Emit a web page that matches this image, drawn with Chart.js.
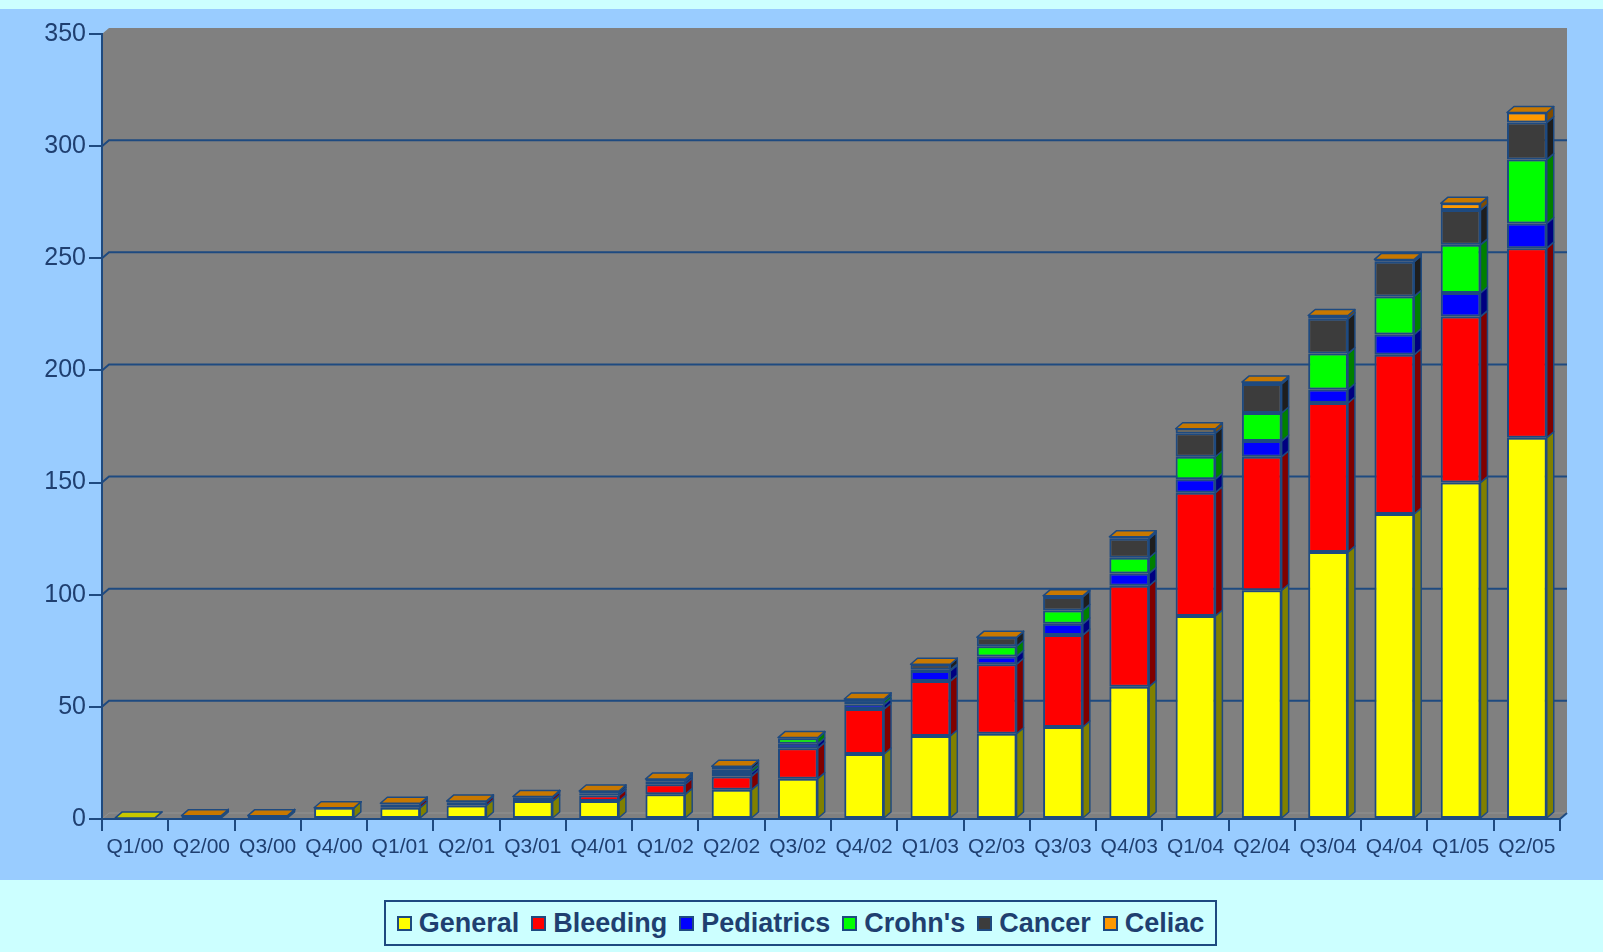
<!DOCTYPE html>
<html>
<head>
<meta charset="utf-8">
<script src="https://cdn.jsdelivr.net/npm/chart.js@4.4.1/dist/chart.umd.min.js"></script>
<style>
  html, body { margin: 0; padding: 0; background: #ccffff; }
  body { width: 1603px; height: 952px; position: relative; overflow: hidden; font-family: "Liberation Sans", Arial, sans-serif; }
  #wrap { position: absolute; left: 0; top: 0; width: 1603px; height: 880px; }
  #legend { position: absolute; left: 384px; top: 900px; width: 829px; height: 42px; border: 2px solid #1e4a80;
            display: flex; align-items: center; justify-content: center; }
  .item { display: flex; align-items: center; margin: 0 6px; font-weight: bold; font-size: 27px; color: #1f3f70; }
  .box { width: 11px; height: 11px; border: 2px solid #1e4a80; margin-right: 7px; }
</style>
</head>
<body>
<div id="wrap"><canvas id="chart" width="1603" height="880"></canvas></div>
<div id="legend"></div>
<script>
const quarters = ["Q1/00", "Q2/00", "Q3/00", "Q4/00", "Q1/01", "Q2/01", "Q3/01", "Q4/01",
                  "Q1/02", "Q2/02", "Q3/02", "Q4/02", "Q1/03", "Q2/03", "Q3/03", "Q4/03",
                  "Q1/04", "Q2/04", "Q3/04", "Q4/04", "Q1/05", "Q2/05"];

const general    = [0.5, 1.5, 1.5, 5, 5, 6, 8, 8, 11, 13, 18, 29, 37, 38, 41, 59, 90.5, 102, 119, 136, 150, 170];
const bleeding   = [null, 0, 0, 0, 1.5, 1.5, 1.5, 2.5, 4.5, 6, 13.5, 20, 24.5, 31, 41, 45, 55, 59.5, 66.5, 71, 74, 84.5];
const pediatrics = [null, 0, 0, 0, 0.5, 0.5, 0.5, 1, 1, 1.5, 2, 2, 4.5, 3.5, 5, 5.5, 6, 7, 6, 9, 10.5, 11];
const crohns     = [null, 0, 0, 0, 0, 0, 0, 0, 0.3, 1.5, 2.5, 1.5, 0.5, 4.5, 6, 7, 10, 12.5, 16, 17, 21.5, 28.5];
const cancer     = [null, 0, 0, 0, 0, 0, 0, 1, 1, 1.5, 0.3, 1, 2.5, 4, 6, 8.5, 10.5, 13, 15.5, 15.5, 15.5, 16.5];
const celiac     = [null, 0, 0, 0, 0, 0, 0, 0, 0, 0, 0, 0, 0, 0, 0.5, 0.8, 2, 0.8, 1.5, 1, 3, 4.5];

const yTicks = [0, 50, 100, 150, 200, 250, 300, 350];

const seriesNames = ["General", "Bleeding", "Pediatrics", "Crohn's", "Cancer", "Celiac"];
const seriesData = [general, bleeding, pediatrics, crohns, cancer, celiac];
const frontColors = ["#ffff00", "#ff0000", "#0000ff", "#00ff00", "#3c3c3c", "#ff9900"];
const sideColors  = ["#808000", "#800000", "#000080", "#008000", "#1e1e1e", "#804c00"];
const topColors   = ["#c8c800", "#c00000", "#0000c0", "#00c000", "#2e2e2e", "#c87800"];

const navy = "#1e4a80";
const textNavy = "#1f3f70";
const dx = 7, dy = 6;

const threeD = {
    id: "threeD",
    beforeDraw(chart) {
        const ctx = chart.ctx, a = chart.chartArea, ys = chart.scales.y;
        ctx.save();
        ctx.fillStyle = "#ccffff";
        ctx.fillRect(0, 0, chart.width, 9);
        ctx.fillStyle = "#99ccff";
        ctx.fillRect(0, 9, chart.width, chart.height - 9);

        // back wall + side wall + floor
        ctx.fillStyle = "#808080";
        ctx.beginPath();
        ctx.moveTo(a.left, a.top);
        ctx.lineTo(a.left + dx, a.top - dy);
        ctx.lineTo(a.right + dx, a.top - dy);
        ctx.lineTo(a.right + dx, a.bottom - dy);
        ctx.lineTo(a.right, a.bottom);
        ctx.lineTo(a.left, a.bottom);
        ctx.closePath();
        ctx.fill();

        // faint floor edge
        ctx.strokeStyle = "rgba(150,150,150,0.8)";
        ctx.lineWidth = 1;
        ctx.beginPath();
        ctx.moveTo(a.left, a.bottom);
        ctx.lineTo(a.left + dx, a.bottom - dy);
        ctx.lineTo(a.right + dx, a.bottom - dy);
        ctx.stroke();

        // grid lines on the back wall
        ctx.strokeStyle = navy;
        ctx.lineWidth = 2;
        yTicks.forEach(v => {
            if (v <= 0 || v >= ys.max) return;
            const py = ys.getPixelForValue(v);
            ctx.beginPath();
            ctx.moveTo(a.left, py);
            ctx.lineTo(a.left + dx, py - dy);
            ctx.lineTo(a.right + dx, py - dy);
            ctx.stroke();
        });

        // right end of floor
        ctx.beginPath();
        ctx.moveTo(a.right, a.bottom);
        ctx.lineTo(a.right + dx, a.bottom - dy);
        ctx.stroke();
        ctx.restore();
    },
    afterDatasetsDraw(chart) {
        const ctx = chart.ctx;
        ctx.save();
        ctx.strokeStyle = navy;
        ctx.lineWidth = 1.5;
        ctx.lineJoin = "round";
        quarters.forEach((q, i) => {
            let topIdx = -1;
            seriesData.forEach((arr, d) => {
                if (arr[i] === null) return;
                const el = chart.getDatasetMeta(d).data[i];
                const r = el.x + el.width / 2;
                ctx.fillStyle = sideColors[d];
                ctx.beginPath();
                ctx.moveTo(r, el.y);
                ctx.lineTo(r + dx, el.y - dy);
                ctx.lineTo(r + dx, el.base - dy);
                ctx.lineTo(r, el.base);
                ctx.closePath();
                ctx.fill();
                ctx.stroke();
                topIdx = d;
            });
            if (topIdx < 0) return;
            const el = chart.getDatasetMeta(topIdx).data[i];
            const l = el.x - el.width / 2, r = el.x + el.width / 2;
            ctx.fillStyle = topColors[topIdx];
            ctx.beginPath();
            ctx.moveTo(l, el.y);
            ctx.lineTo(l + dx, el.y - dy);
            ctx.lineTo(r + dx, el.y - dy);
            ctx.lineTo(r, el.y);
            ctx.closePath();
            ctx.fill();
            ctx.stroke();
        });
        ctx.restore();
    }
};

new Chart(document.getElementById("chart"), {
    type: "bar",
    data: {
        labels: quarters,
        datasets: seriesData.map((arr, d) => ({
            label: seriesNames[d],
            data: arr,
            backgroundColor: frontColors[d],
            borderColor: navy,
            borderWidth: 2,
            borderSkipped: false,
            barPercentage: 0.6,
            categoryPercentage: 1
        }))
    },
    options: {
        responsive: false,
        devicePixelRatio: 1,
        animation: false,
        layout: { padding: { top: 34, right: 43, bottom: 0, left: 0 } },
        plugins: { legend: { display: false }, tooltip: { enabled: false } },
        scales: {
            x: {
                stacked: true,
                grid: { drawOnChartArea: false, offset: true, tickLength: 12, color: navy, lineWidth: 2 },
                border: { display: true, color: navy, width: 2 },
                ticks: { color: textNavy, font: { family: "Liberation Sans", size: 21 }, padding: 4,
                         maxRotation: 0, autoSkip: false },
                afterFit(s) { s.height = 61; }
            },
            y: {
                stacked: true,
                min: 0,
                max: 350,
                grid: { drawOnChartArea: false, tickLength: 13, color: navy, lineWidth: 2 },
                border: { display: true, color: navy, width: 2 },
                ticks: { stepSize: 50, color: textNavy, font: { family: "Liberation Sans", size: 25 }, padding: 3 },
                afterFit(s) { s.width = 102; }
            }
        }
    },
    plugins: [threeD]
});

// legend built from the same series
const legend = document.getElementById("legend");
seriesNames.forEach((name, d) => {
    const item = document.createElement("div");
    item.className = "item";
    const box = document.createElement("span");
    box.className = "box";
    box.style.background = frontColors[d];
    item.appendChild(box);
    item.appendChild(document.createTextNode(name));
    legend.appendChild(item);
});
</script>
</body>
</html>
